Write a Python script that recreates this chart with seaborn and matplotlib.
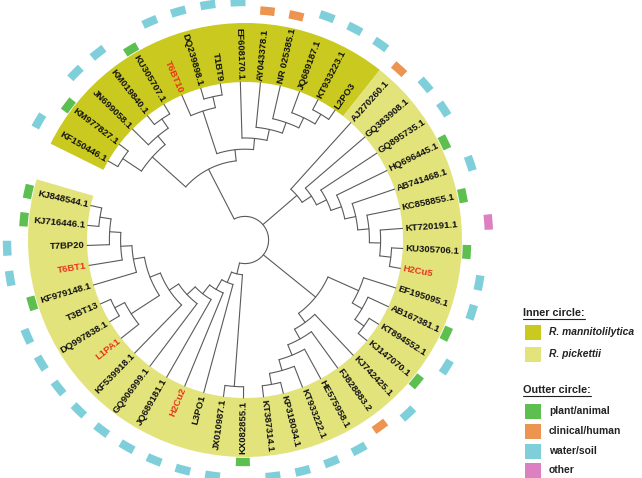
import numpy as np
import pandas as pd
import matplotlib
matplotlib.use("Agg")
import matplotlib.pyplot as plt
from matplotlib.patches import Wedge, Rectangle
import seaborn as sns

# leaves, clockwise from the upper-left end of the circle
leaves = [
    "KF150446.1", "KM977827.1", "JN699058.1", "KM019840.1", "KU305707.1", "T6BT10",
    "DQ239898.1", "T1BT9", "EF608170.1", "AY043378.1", "NR 025385.1", "JQ689187.1",
    "KT933223.1", "L2PO3",
    "AJ270260.1", "GQ383908.1", "GQ895735.1", "HQ696445.1", "AB741468.1", "KC858855.1",
    "KT720191.1", "KU305706.1", "H2Cu5", "EF195095.1", "AB167381.1", "KT894552.1",
    "KJ147070.1", "KJ742425.1", "FJ828883.2", "HE575958.1", "KT933222.1", "KP318034.1",
    "KT387314.1", "KX082855.1", "JX010987.1", "L3PO1", "H2Cu2", "JQ689181.1",
    "GQ906999.1", "KF539918.1", "L1PA1", "DQ997838.1", "T3BT13", "KF979148.1",
    "T6BT1", "T7BP20", "KJ716446.1", "KJ848544.1",
]
species = ["R. mannitolilytica"] * 14 + ["R. pickettii"] * 34
source = [
    "water/soil", "plant/animal", "water/soil", "water/soil", "plant/animal", "water/soil",
    "water/soil", "water/soil", "water/soil", "clinical/human", "clinical/human", "water/soil",
    "water/soil", "water/soil",
    "clinical/human", "water/soil", "water/soil", "plant/animal", "water/soil", "plant/animal",
    "other", "plant/animal", "water/soil", "water/soil", "plant/animal", "water/soil",
    "plant/animal", "water/soil", "clinical/human", "water/soil", "water/soil", "water/soil",
    "water/soil", "plant/animal", "water/soil", "water/soil", "water/soil", "water/soil",
    "water/soil", "water/soil", "water/soil", "water/soil", "water/soil", "plant/animal",
    "water/soil", "water/soil", "plant/animal", "plant/animal",
]
own_isolates = ["T6BT10", "H2Cu5", "H2Cu2", "L1PA1", "T6BT1"]

# topology (nested tuples)
mannito = ((("KF150446.1", "KM977827.1"), ("JN699058.1", ("KM019840.1", "KU305707.1"))),
           (("T6BT10", ("DQ239898.1", "T1BT9")),
            ("EF608170.1", ("AY043378.1", ("NR 025385.1", ("JQ689187.1", ("KT933223.1", "L2PO3")))))))
upper = ("AJ270260.1", ("GQ383908.1", ("GQ895735.1", ("HQ696445.1", ("AB741468.1",
         ("KC858855.1", ("KT720191.1", ("KU305706.1", "H2Cu5"))))))))
lower_right = (("EF195095.1", ("AB167381.1", ("KT894552.1", "KJ147070.1"))),
               ("KJ742425.1", ("FJ828883.2", ("HE575958.1", ("KT933222.1", ("KP318034.1", "KT387314.1"))))))
left = (("L1PA1", ("DQ997838.1", "T3BT13")),
        ("KF979148.1", ("T6BT1", ("T7BP20", ("KJ716446.1", "KJ848544.1")))))
lower_left = (("KX082855.1", "JX010987.1"),
              ("L3PO1", ("H2Cu2", ("JQ689181.1", ("GQ906999.1", ("KF539918.1", left))))))
tree = (mannito, upper, lower_right, lower_left)

band_colors = {"R. mannitolilytica": "#c9c91f", "R. pickettii": "#e3e37c"}
source_colors = {"plant/animal": "#5cbf4f", "clinical/human": "#ec9450",
                 "water/soil": "#7fcfdb", "other": "#dd80c2"}
ring_r = {"plant/animal": 222, "clinical/human": 230, "water/soil": 238, "other": 244}

sns.set_style("white")
plt.rcParams["font.family"] = ["Liberation Sans", "DejaVu Sans"]

W, H = 642, 478
cx, cy = 245, 240
r_leaf = 158
step = 11.2
a0 = 150.0
da = 342.6 / (len(leaves) - 1)


def leaf_angle(name):
    return a0 - leaves.index(name) * da


def height(node):
    if isinstance(node, str):
        return 0
    return 1 + max(height(c) for c in node)


segs = []


def add_seg(pts):
    k = len(segs)
    for x, y in pts:
        segs.append((k, x, y)) if False else None
    return k


seg_rows = []


def polar(r, a):
    t = np.deg2rad(a)
    return r * np.cos(t), r * np.sin(t)


def layout(node):
    if isinstance(node, str):
        return leaf_angle(node), r_leaf
    kids = [layout(c) for c in node]
    a = (kids[0][0] + kids[-1][0]) / 2
    r = r_leaf - height(node) * step
    sid = len(set(s[0] for s in seg_rows)) if seg_rows else 0
    angs = np.linspace(kids[0][0], kids[-1][0], 40)
    for t in angs:
        x, y = polar(r, t)
        seg_rows.append((sid, x, y))
    for j, (ka, kr) in enumerate(kids):
        for rr in (r, kr):
            x, y = polar(rr, ka)
            seg_rows.append((sid + 1 + j, x, y))
    return a, r


layout(tree)
edges = pd.DataFrame(seg_rows, columns=["seg", "x", "y"])

fig = plt.figure(figsize=(W / 100, H / 100), dpi=100)
ax = fig.add_axes([0, 0, 1, 1])
ax.set_xlim(-cx, W - cx)
ax.set_ylim(cy - H, cy)
ax.axis("off")

# inner circle bands
half = da / 2
n_m = species.count("R. mannitolilytica")
ax.add_patch(Wedge((0, 0), 217, leaf_angle(leaves[n_m - 1]) - half, a0 + half,
                   width=217 - r_leaf, color=band_colors["R. mannitolilytica"], lw=0))
ax.add_patch(Wedge((0, 0), 217, leaf_angle(leaves[-1]) - half, leaf_angle(leaves[n_m - 1]) - half,
                   width=217 - r_leaf, color=band_colors["R. pickettii"], lw=0))

# outer circle boxes
for name, src in zip(leaves, source):
    a = leaf_angle(name)
    ax.add_patch(Wedge((0, 0), ring_r[src] + 4.2, a - 1.8, a + 1.8, width=8.4,
                       color=source_colors[src], lw=0))

# tree branches
sns.lineplot(data=edges, x="x", y="y", units="seg", estimator=None, sort=False,
             color="#5a5a5a", linewidth=0.8, ax=ax)
ax.set_xlabel("")
ax.set_ylabel("")

# leaf labels
for name in leaves:
    a = leaf_angle(name)
    a = (a + 180) % 360 - 180
    x, y = polar(r_leaf + 2.5, a)
    if -90 <= a <= 90:
        rot, ha = a, "left"
    else:
        rot, ha = a + 180, "right"
    ax.text(x, y, name, rotation=rot, rotation_mode="anchor", ha=ha, va="center",
            fontsize=6.8, fontweight="bold",
            color="#e8341c" if name in own_isolates else "#111111")


# legend (pixel positions)
def P(x, y):
    return x - cx, cy - y


renderer = fig.canvas.get_renderer()


def title(x, y, s):
    t = ax.text(*P(x, y), s, fontsize=7.8, fontweight="bold", ha="left", va="center",
                color="#222222")
    w = t.get_window_extent(renderer).width
    ax.plot([P(x, 0)[0], P(x, 0)[0] + w], [P(0, y + 5.5)[1]] * 2, color="#222222", lw=0.8)


def item(y, color, label, italic=False):
    ax.add_patch(Rectangle(P(525, y + 7.5), 16, 15, color=color, lw=0))
    ax.text(*P(549, y), label, fontsize=7.4, fontweight="bold",
            fontstyle="italic" if italic else "normal", ha="left", va="center", color="#222222")


title(523, 313, "Inner circle:")
item(332, band_colors["R. mannitolilytica"], "R. mannitolilytica", italic=True)
item(354, band_colors["R. pickettii"], "R. pickettii", italic=True)
title(523, 390, "Outter circle:")
for yy, key in zip([411, 431, 451, 470], ["plant/animal", "clinical/human", "water/soil", "other"]):
    item(yy, source_colors[key], key)

fig.savefig("out.png", dpi=100)
